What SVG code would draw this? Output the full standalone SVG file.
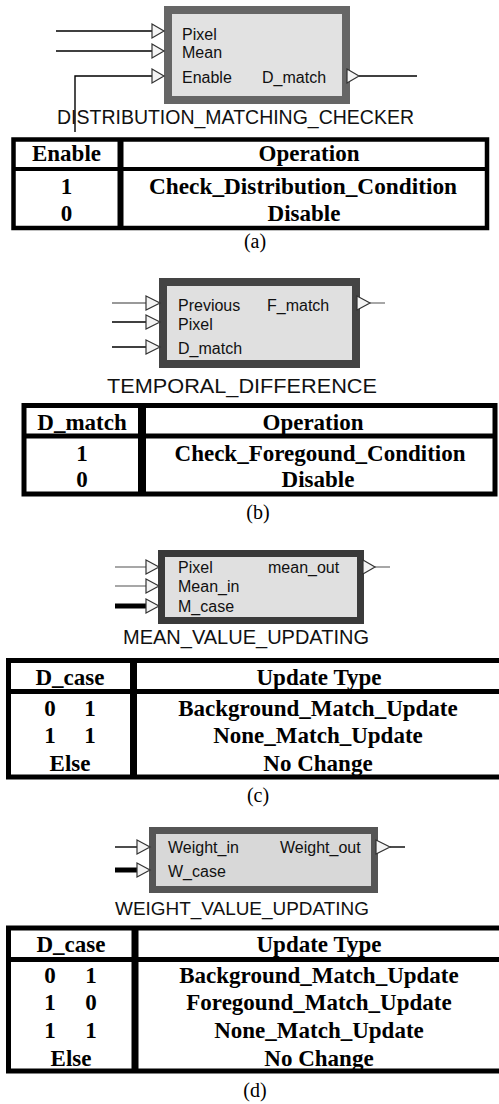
<svg xmlns="http://www.w3.org/2000/svg" width="499" height="1104" viewBox="0 0 499 1104">
<style>
.lbl{font-family:"Liberation Sans",Arial,sans-serif;font-size:16px;fill:#111}
.ttl{font-family:"Liberation Sans",Arial,sans-serif;fill:#111}
.tb{font-family:"Liberation Serif","Times New Roman",serif;font-weight:bold;font-size:23px;fill:#000;text-anchor:middle}
.cap{font-family:"Liberation Serif","Times New Roman",serif;font-size:20px;fill:#000;text-anchor:middle}
.port{fill:#f4f4f4;stroke:#333;stroke-width:1.2}
.w{stroke:#000;fill:none;stroke-width:1.4}
.g{stroke:#777;fill:none;stroke-width:1.3}
.bus{stroke:#000;fill:none;stroke-width:5}
.frame{fill:none;stroke:#000}
</style>
<rect width="499" height="1104" fill="#fff"/>

<!-- connectors -->
<g id="connectors">
  <line class="w" x1="56" y1="31" x2="152" y2="31" stroke-width="1.1"/>
  <line class="w" x1="56" y1="51" x2="152" y2="51" stroke-width="1.8"/>
  <path class="w" d="M75,132 V76 H152"/>
  <line class="w" x1="359" y1="76" x2="417" y2="76"/>

  <line class="g" x1="112" y1="303" x2="146" y2="303"/>
  <line class="w" x1="112" y1="322" x2="146" y2="322" stroke-width="1.7"/>
  <line class="w" x1="112" y1="347" x2="146" y2="347" stroke-width="1.7"/>
  <line class="g" x1="370" y1="303" x2="385" y2="303"/>

  <line class="g" x1="115" y1="567" x2="146" y2="567"/>
  <line class="g" x1="115" y1="586" x2="146" y2="586"/>
  <line class="bus" x1="115" y1="606" x2="146" y2="606"/>
  <line class="g" x1="375" y1="567" x2="390" y2="567"/>

  <line class="w" x1="115" y1="847" x2="137" y2="847" stroke-width="1.6"/>
  <line class="bus" x1="115" y1="870" x2="137" y2="870"/>
  <line class="w" x1="390" y1="847" x2="405" y2="847" stroke-width="1.6"/>
</g>

<!-- (a) -->
<g id="dmc">
  <rect x="168" y="10" width="178" height="90" fill="#e2e2e2" stroke="#666" stroke-width="8"/>
  <polygon class="port" points="152,24 164,31 152,38"/>
  <polygon class="port" points="152,44 164,51 152,58"/>
  <polygon class="port" points="152,69 164,76 152,83"/>
  <polygon class="port" points="347,69 359,76 347,83"/>
  <text class="lbl" x="182" y="40">Pixel</text>
  <text class="lbl" x="182" y="58">Mean</text>
  <text class="lbl" x="182" y="83">Enable</text>
  <text class="lbl" x="262" y="83">D_match</text>
  <text class="ttl" x="57" y="124" font-size="19.5" textLength="357" lengthAdjust="spacingAndGlyphs">DISTRIBUTION_MATCHING_CHECKER</text>
</g>
<g id="table-a">
  <rect class="frame" x="13.5" y="139.5" width="473.5" height="88.5" stroke-width="4.5"/>
  <line class="frame" x1="13" y1="169" x2="487" y2="169" stroke-width="4"/>
  <line class="frame" x1="120.5" y1="139" x2="120.5" y2="228" stroke-width="6"/>
  <text class="tb" x="66.5" y="161" font-size="22">Enable</text>
  <text class="tb" x="309" y="161" font-size="22">Operation</text>
  <text class="tb" x="66.5" y="194" font-size="22">1</text>
  <text class="tb" x="303" y="194" font-size="22" textLength="308" lengthAdjust="spacingAndGlyphs">Check_Distribution_Condition</text>
  <text class="tb" x="66.5" y="221" font-size="22">0</text>
  <text class="tb" x="304" y="221" font-size="22">Disable</text>
  <text class="cap" x="255" y="248">(a)</text>
</g>

<!-- (b) -->
<g id="td">
  <rect x="163" y="282" width="193" height="82" fill="#e0e0e0" stroke="#444" stroke-width="8"/>
  <polygon class="port" points="146,296 160,303 146,310"/>
  <polygon class="port" points="146,315 160,322 146,329"/>
  <polygon class="port" points="146,340 160,347 146,354"/>
  <polygon class="port" points="357,296 370,303 357,310"/>
  <text class="lbl" x="178" y="311" font-size="17">Previous</text>
  <text class="lbl" x="267" y="311" font-size="17">F_match</text>
  <text class="lbl" x="178" y="330" font-size="17">Pixel</text>
  <text class="lbl" x="178" y="354" font-size="17">D_match</text>
  <text class="ttl" x="107" y="393" font-size="20.5" textLength="270" lengthAdjust="spacingAndGlyphs">TEMPORAL_DIFFERENCE</text>
</g>
<g id="table-b">
  <rect class="frame" x="24" y="405.5" width="471" height="88.5" stroke-width="5"/>
  <line class="frame" x1="24" y1="436" x2="495" y2="436" stroke-width="5"/>
  <line class="frame" x1="142" y1="405" x2="142" y2="494" stroke-width="8"/>
  <text class="tb" x="82" y="430">D_match</text>
  <text class="tb" x="313" y="430">Operation</text>
  <text class="tb" x="82" y="461">1</text>
  <text class="tb" x="320" y="461">Check_Foregound_Condition</text>
  <text class="tb" x="82" y="487">0</text>
  <text class="tb" x="318" y="487">Disable</text>
  <text class="cap" x="258" y="519">(b)</text>
</g>

<!-- (c) -->
<g id="mvu">
  <rect x="161.5" y="553.5" width="199" height="67" fill="#e0e0e0" stroke="#3a3a3a" stroke-width="7"/>
  <polygon class="port" points="146,560 159,567 146,574"/>
  <polygon class="port" points="146,579 159,586 146,593"/>
  <polygon class="port" points="146,599 159,606 146,613"/>
  <polygon class="port" points="363,560 375,567 363,574"/>
  <text class="lbl" x="178" y="573">Pixel</text>
  <text class="lbl" x="268" y="573">mean_out</text>
  <text class="lbl" x="178" y="592">Mean_in</text>
  <text class="lbl" x="178" y="612">M_case</text>
  <text class="ttl" x="123" y="644" font-size="20" textLength="246" lengthAdjust="spacingAndGlyphs">MEAN_VALUE_UPDATING</text>
</g>
<g id="table-c">
  <rect class="frame" x="8.5" y="660.5" width="500" height="116.5" stroke-width="5"/>
  <line class="frame" x1="8" y1="691.5" x2="499" y2="691.5" stroke-width="5"/>
  <line class="frame" x1="133.5" y1="660" x2="133.5" y2="777" stroke-width="7"/>
  <text class="tb" x="70" y="685">D_case</text>
  <text class="tb" x="319" y="685">Update Type</text>
  <text class="tb" x="50" y="716">0</text>
  <text class="tb" x="90" y="716">1</text>
  <text class="tb" x="318" y="716">Background_Match_Update</text>
  <text class="tb" x="50" y="743">1</text>
  <text class="tb" x="90" y="743">1</text>
  <text class="tb" x="318" y="743">None_Match_Update</text>
  <text class="tb" x="70" y="771">Else</text>
  <text class="tb" x="318" y="771">No Change</text>
  <text class="cap" x="258" y="802">(c)</text>
</g>

<!-- (d) -->
<g id="wvu">
  <rect x="152.5" y="830.5" width="222" height="59" fill="#d8d8d8" stroke="#555" stroke-width="7"/>
  <polygon class="port" points="137,840 150,847 137,854"/>
  <polygon class="port" points="137,863 150,870 137,877"/>
  <polygon class="port" points="376,840 390,847 376,854"/>
  <text class="lbl" x="168" y="853">Weight_in</text>
  <text class="lbl" x="280" y="853">Weight_out</text>
  <text class="lbl" x="168" y="877">W_case</text>
  <text class="ttl" x="115" y="915" font-size="19" textLength="254" lengthAdjust="spacingAndGlyphs">WEIGHT_VALUE_UPDATING</text>
</g>
<g id="table-d">
  <rect class="frame" x="8.5" y="928" width="500" height="143" stroke-width="5"/>
  <line class="frame" x1="8" y1="959.5" x2="499" y2="959.5" stroke-width="5"/>
  <line class="frame" x1="135" y1="928" x2="135" y2="1071" stroke-width="7"/>
  <text class="tb" x="71" y="952">D_case</text>
  <text class="tb" x="319" y="952">Update Type</text>
  <text class="tb" x="50" y="983">0</text>
  <text class="tb" x="91" y="983">1</text>
  <text class="tb" x="319" y="983">Background_Match_Update</text>
  <text class="tb" x="50" y="1010">1</text>
  <text class="tb" x="91" y="1010">0</text>
  <text class="tb" x="319" y="1010">Foregound_Match_Update</text>
  <text class="tb" x="50" y="1038">1</text>
  <text class="tb" x="91" y="1038">1</text>
  <text class="tb" x="319" y="1038">None_Match_Update</text>
  <text class="tb" x="71" y="1066">Else</text>
  <text class="tb" x="319" y="1066">No Change</text>
  <text class="cap" x="255" y="1097">(d)</text>
</g>
</svg>
